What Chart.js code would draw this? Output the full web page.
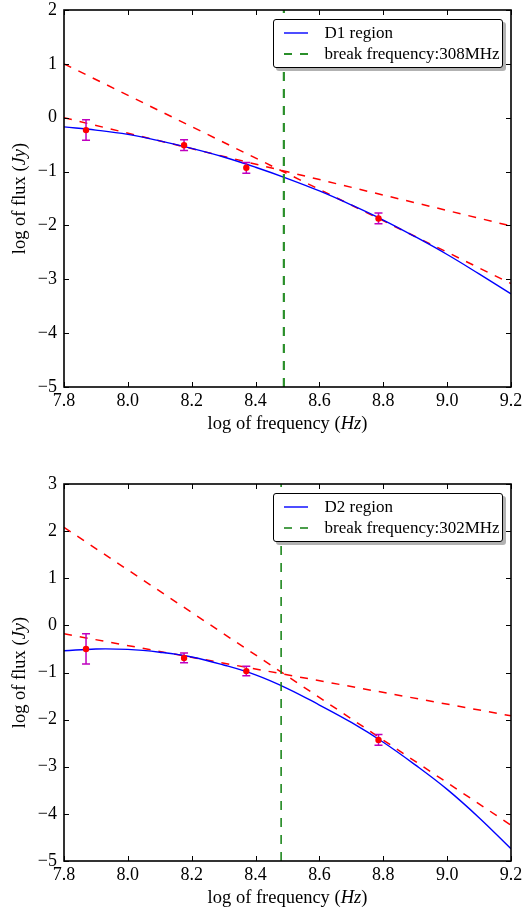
<!DOCTYPE html>
<html><head><meta charset="utf-8">
<script src="https://cdn.jsdelivr.net/npm/chart.js@4"></script>
<style>
html,body{margin:0;padding:0;background:#fff;}
#wrap{position:relative;width:522px;height:912px;overflow:hidden;}
.panel{position:absolute;left:0;width:522px;height:456px;}
.legend{position:absolute;box-sizing:border-box;width:230px;height:49px;background:#fff;border:1px solid #000;border-radius:3px;box-shadow:3px 3px 0 rgba(0,0,0,0.3);font-family:"Liberation Serif",serif;font-size:17px;color:#000;padding-top:3px;}
.row{height:21px;display:flex;align-items:center;}
.row svg{margin-left:10px;width:24px;height:6px;flex:none;}
.row span{margin-left:17px;white-space:nowrap;}
</style></head>
<body>
<div id="wrap">
  <div class="panel" style="top:0"><canvas id="c1" width="522" height="456"></canvas></div>
  <div class="panel" style="top:456px"><canvas id="c2" width="522" height="456"></canvas></div>
</div>
<script>
// ---------- data ----------
const xTickValues = [7.8, 8.0, 8.2, 8.4, 8.6, 8.8, 9.0, 9.2];
const d1YTicks = [-5, -4, -3, -2, -1, 0, 1, 2];
const d2YTicks = [-5, -4, -3, -2, -1, 0, 1, 2, 3];

const modelFreq = [7.8, 7.9, 8.0, 8.1, 8.2, 8.3, 8.4, 8.5, 8.6, 8.7, 8.8, 8.9, 9.0, 9.1, 9.2];
const d1Model = [-0.17, -0.23, -0.31, -0.43, -0.57, -0.73, -0.92, -1.13, -1.36, -1.62, -1.90, -2.21, -2.54, -2.90, -3.27];
const d2Model = [-0.54, -0.50, -0.51, -0.57, -0.67, -0.84, -1.05, -1.34, -1.69, -2.06, -2.48, -2.96, -3.48, -4.08, -4.74];

const obsFreq = [7.869, 8.176, 8.371, 8.785];
const d1Flux = [-0.23, -0.51, -0.93, -1.87];
const d1Err  = [0.19, 0.10, 0.10, 0.10];
const d2Flux = [-0.50, -0.69, -0.97, -2.43];
const d2Err  = [0.32, 0.105, 0.10, 0.115];

const fitFreq = [7.8, 9.2];
const d1SteepFit = [1.00, -3.08];
const d1FlatFit  = [0.00, -2.01];
const d2SteepFit = [2.08, -4.24];
const d2FlatFit  = [-0.18, -1.92];

const d1BreakFreq = 8.4886;
const d2BreakFreq = 8.4800;

const d1Labels = ['D1 region', 'break frequency:308MHz'];
const d2Labels = ['D2 region', 'break frequency:302MHz'];

// ---------- helpers ----------
const FONT = '"Liberation Serif", "DejaVu Serif", serif';
const pts = (xs, ys) => xs.map((x, i) => ({x, y: ys[i]}));
const fmtY = v => v < 0 ? '\u2212' + Math.abs(v) : String(v);

function drawRich(ctx, segs, size) {
  let total = 0;
  segs.forEach(s => { ctx.font = (s[1] ? 'italic ' : '') + size + 'px ' + FONT; s.w = ctx.measureText(s[0]).width; total += s.w; });
  let x = -total / 2;
  segs.forEach(s => { ctx.font = (s[1] ? 'italic ' : '') + size + 'px ' + FONT; ctx.fillText(s[0], x, 0); x += s.w; });
}

const decor = {
  id: 'decor',
  beforeDatasetDraw(chart, args, opts) {
    if (args.index !== 0) return;
    const {ctx, scales: {x, y}} = chart;
    ctx.save();
    ctx.strokeStyle = '#bf00bf';
    ctx.lineWidth = 1.5;
    opts.xs.forEach((fx, i) => {
      const px = x.getPixelForValue(fx);
      const top = y.getPixelForValue(opts.ys[i] + opts.errs[i]);
      const bot = y.getPixelForValue(opts.ys[i] - opts.errs[i]);
      ctx.beginPath();
      ctx.moveTo(px, top); ctx.lineTo(px, bot);
      ctx.moveTo(px - 4, top); ctx.lineTo(px + 4, top);
      ctx.moveTo(px - 4, bot); ctx.lineTo(px + 4, bot);
      ctx.stroke();
    });
    ctx.restore();
  },
  afterDraw(chart) {
    const {ctx, chartArea: a, scales: {x, y}} = chart;
    ctx.save();
    ctx.strokeStyle = '#000';
    ctx.lineWidth = 1;
    ctx.beginPath();
    x.ticks.forEach(t => {
      const p = Math.round(x.getPixelForValue(t.value)) + 0.5;
      ctx.moveTo(p, a.bottom); ctx.lineTo(p, a.bottom - 5);
      ctx.moveTo(p, a.top); ctx.lineTo(p, a.top + 5);
    });
    y.ticks.forEach(t => {
      const p = Math.round(y.getPixelForValue(t.value)) + 0.5;
      ctx.moveTo(a.left, p); ctx.lineTo(a.left + 5, p);
      ctx.moveTo(a.right, p); ctx.lineTo(a.right - 5, p);
    });
    ctx.stroke();
    ctx.lineWidth = 1.6;
    ctx.strokeRect(a.left, a.top, a.right - a.left, a.bottom - a.top);
    ctx.fillStyle = '#000';
    ctx.textBaseline = 'middle';
    ctx.textAlign = 'left';
    ctx.save();
    ctx.translate((a.left + a.right) / 2, a.bottom + 37);
    drawRich(ctx, [['log of frequency ('], ['Hz', true], [')']], 18.5);
    ctx.restore();
    ctx.save();
    ctx.translate(20, (a.top + a.bottom) / 2);
    ctx.rotate(-Math.PI / 2);
    drawRich(ctx, [['log of flux ('], ['Jy', true], [')']], 18.5);
    ctx.restore();
    ctx.restore();
  }
};

function makeChart(id, cfg) {
  const datasets = [
    {label: 'data', data: pts(obsFreq, cfg.flux), showLine: false, pointRadius: 3.2, pointBackgroundColor: '#ff0000', pointBorderColor: '#ff0000', pointBorderWidth: 0},
    {label: cfg.labels[1], data: pts([cfg.brk, cfg.brk], [cfg.yMin, cfg.yMax]), showLine: true, borderColor: cfg.gc, borderWidth: cfg.gw, borderDash: [9, 8], pointRadius: 0},
    {label: cfg.labels[0], data: pts(modelFreq, cfg.model), showLine: true, borderColor: '#0000ff', borderWidth: 1.4, pointRadius: 0, tension: 0.4},
    {label: 'steep', data: pts(fitFreq, cfg.steep), showLine: true, borderColor: '#ff0000', borderWidth: 1.5, borderDash: [8, 8], pointRadius: 0},
    {label: 'flat', data: pts(fitFreq, cfg.flat), showLine: true, borderColor: '#ff0000', borderWidth: 1.5, borderDash: [8, 8], pointRadius: 0}
  ];
  const chart = new Chart(document.getElementById(id), {
    type: 'scatter',
    data: {datasets},
    options: {
      responsive: false, animation: false, devicePixelRatio: 1,
      layout: {padding: {top: cfg.padTop, right: 11, bottom: cfg.padBottom, left: 0}},
      plugins: {legend: {display: false}, tooltip: {enabled: false},
        decor: {xs: obsFreq, ys: cfg.flux, errs: cfg.err}},
      scales: {
        x: {type: 'linear', min: 7.8, max: 9.2,
          grid: {display: false, drawTicks: false}, border: {display: false},
          afterBuildTicks: s => { s.ticks = xTickValues.map(v => ({value: v})); },
          afterFit: s => { s.height = 45; s.paddingLeft = 0; s.paddingRight = 0; },
          ticks: {padding: 3, color: '#000', font: {family: FONT, size: 18}, callback: v => Number(v).toFixed(1), maxRotation: 0, autoSkip: false}},
        y: {type: 'linear', min: cfg.yMin, max: cfg.yMax,
          grid: {display: false, drawTicks: false}, border: {display: false},
          afterBuildTicks: s => { s.ticks = cfg.yTicks.map(v => ({value: v})); },
          afterFit: s => { s.width = 64; s.paddingTop = 0; s.paddingBottom = 0; },
          ticks: {padding: 7, color: '#000', font: {family: FONT, size: 18}, callback: v => fmtY(v), autoSkip: false}}
      }
    },
    plugins: [decor]
  });
  // legend (HTML, built from dataset labels/styles)
  const a = chart.chartArea;
  const panel = document.getElementById(id).parentNode;
  const lg = document.createElement('div');
  lg.className = 'legend';
  lg.style.left = (a.right - 8.5 - 230) + 'px';
  lg.style.top = (a.top + 8.5) + 'px';
  [datasets[2], datasets[1]].forEach(ds => {
    const row = document.createElement('div');
    row.className = 'row';
    const dash = ds.borderDash ? 'stroke-dasharray="8,8"' : '';
    row.innerHTML = '<svg viewBox="0 0 24 6"><line x1="0" y1="3" x2="24" y2="3" stroke="' + ds.borderColor + '" stroke-width="' + Math.min(ds.borderWidth, 1.8) + '" ' + dash + '/></svg>';
    const sp = document.createElement('span');
    sp.textContent = ds.label;
    row.appendChild(sp);
    lg.appendChild(row);
  });
  panel.appendChild(lg);
  return chart;
}

makeChart('c1', {flux: d1Flux, err: d1Err, model: d1Model, steep: d1SteepFit, flat: d1FlatFit,
  brk: d1BreakFreq, yMin: -5, yMax: 2, yTicks: d1YTicks, labels: d1Labels, gw: 2.2, gc: '#2a8f2a', padTop: 10, padBottom: 24});
makeChart('c2', {flux: d2Flux, err: d2Err, model: d2Model, steep: d2SteepFit, flat: d2FlatFit,
  brk: d2BreakFreq, yMin: -5, yMax: 3, yTicks: d2YTicks, labels: d2Labels, gw: 1.5, gc: '#107f10', padTop: 28, padBottom: 6});
</script>
</body></html>
